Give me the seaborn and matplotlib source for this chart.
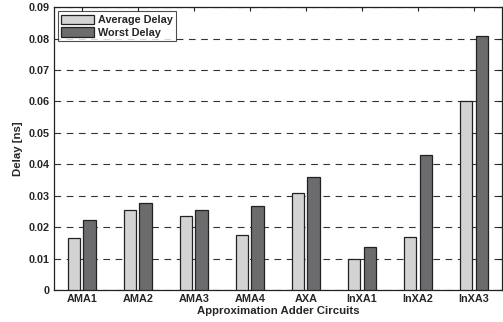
import pandas as pd
import numpy as np
import matplotlib
matplotlib.use("Agg")
import matplotlib.pyplot as plt
import seaborn as sns

# === Data ===
circuits = ["AMA1", "AMA2", "AMA3", "AMA4", "AXA", "InXA1", "InXA2", "InXA3"]
avg_delay = [0.0165, 0.0254, 0.0237, 0.0176, 0.0308, 0.0098, 0.0168, 0.0600]
worst_delay = [0.0222, 0.0278, 0.0256, 0.0268, 0.0359, 0.0137, 0.0430, 0.0809]
yticks = [0, 0.01, 0.02, 0.03, 0.04, 0.05, 0.06, 0.07, 0.08, 0.09]

df = pd.DataFrame({
    "Circuit": circuits * 2,
    "Delay": avg_delay + worst_delay,
    "Type": ["Average Delay"] * len(circuits) + ["Worst Delay"] * len(circuits),
})

sns.set_style("white")
plt.rcParams["font.family"] = ["Liberation Sans", "DejaVu Sans"]
plt.rcParams["font.weight"] = "bold"

fig = plt.figure(figsize=(5.03, 3.22), dpi=100)
ax = fig.add_axes([0.107, 0.099, 0.891, 0.879])

sns.barplot(data=df, x="Circuit", y="Delay", hue="Type",
            palette=["#d3d3d3", "#6b6c70"], width=0.56, gap=0.2,
            edgecolor="#222222", linewidth=0.9, ax=ax, zorder=3)

ax.set_xlim(-0.5, len(circuits) - 0.5)
ax.set_ylim(0, 0.09)
ax.set_yticks(yticks)
ax.set_yticklabels(["0"] + [f"{t:.2f}" for t in yticks[1:]])
ax.yaxis.grid(True, linestyle=(0, (6, 5)), color="#333333", linewidth=0.8, zorder=0)
ax.set_axisbelow(True)

ax.tick_params(axis="both", direction="in", length=3, labelsize=7.8, width=0.8,
               top=True, right=True, color="#222222", pad=3)
for lbl in ax.get_xticklabels() + ax.get_yticklabels():
    lbl.set_fontweight("bold")
for s in ax.spines.values():
    s.set_color("#222222")
    s.set_linewidth(0.9)

ax.set_xlabel("Approximation Adder Circuits", fontsize=8.2, fontweight="bold", labelpad=1)
ax.set_ylabel("Delay [ns]", fontsize=8.2, fontweight="bold", labelpad=4)

leg = ax.legend(loc="upper left", frameon=True, fancybox=False, fontsize=7.8,
                borderpad=0.3, handlelength=3.0, handleheight=1.0,
                handletextpad=0.4, labelspacing=0.2, borderaxespad=0.4)
leg.get_frame().set_edgecolor("#222222")
leg.get_frame().set_linewidth(0.8)
for t in leg.get_texts():
    t.set_fontweight("bold")

fig.savefig("out.png", dpi=100)
